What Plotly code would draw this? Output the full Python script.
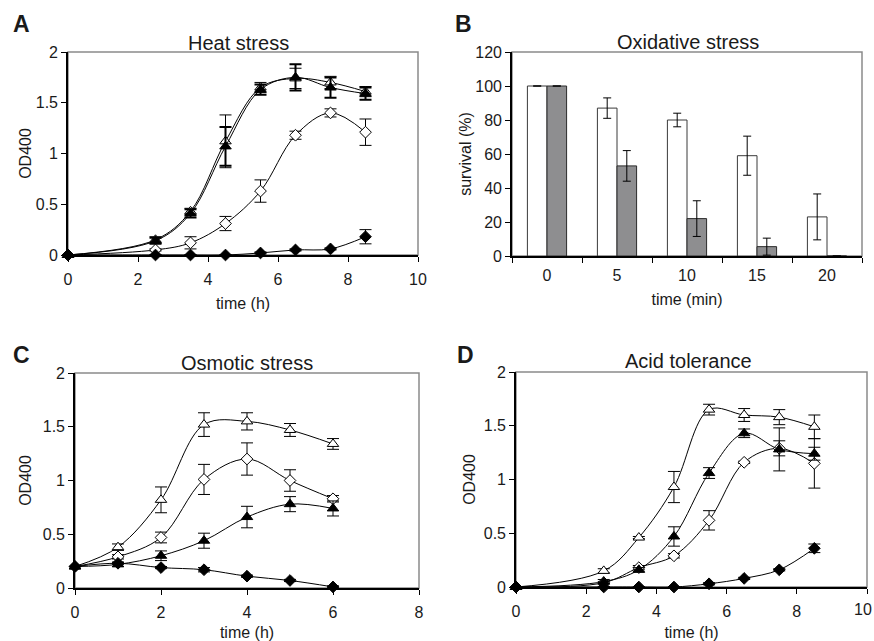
import plotly.graph_objects as go

# ---------------- data ----------------
# Panel A: Heat stress
a_time = [0, 2.5, 3.5, 4.5, 5.5, 6.5, 7.5, 8.5]
a_open_tri = [0, 0.15, 0.43, 1.12, 1.65, 1.74, 1.70, 1.61]
a_open_tri_err = [0, 0.03, 0.03, 0.26, 0.05, 0.10, 0.06, 0.05]
a_fill_tri = [0, 0.14, 0.41, 1.07, 1.63, 1.75, 1.65, 1.59]
a_fill_tri_err = [0, 0.03, 0.04, 0.19, 0.05, 0.13, 0.10, 0.06]
a_open_dia = [0, 0.05, 0.12, 0.31, 0.63, 1.18, 1.40, 1.21]
a_open_dia_err = [0, 0.01, 0.06, 0.07, 0.11, 0.04, 0.04, 0.13]
a_fill_dia = [0, 0, 0, 0, 0.02, 0.05, 0.06, 0.18]
a_fill_dia_err = [0, 0, 0, 0, 0.01, 0.01, 0.01, 0.07]

# Panel B: Oxidative stress
b_cats = ["0", "5", "10", "15", "20"]
b_white = [100, 87, 80, 59, 23]
b_white_err = [0, 6, 4, 11.5, 13.5]
b_gray = [100, 53, 22, 5.5, 0]
b_gray_err = [0, 9, 10.5, 5, 0]

# Panel C: Osmotic stress
c_time = [0, 1, 2, 3, 4, 5, 6]
c_open_tri = [0.2, 0.38, 0.82, 1.52, 1.55, 1.47, 1.34]
c_open_tri_err = [0, 0.03, 0.12, 0.11, 0.08, 0.06, 0.05]
c_open_dia = [0.2, 0.29, 0.47, 1.01, 1.20, 1.00, 0.83]
c_open_dia_err = [0, 0.02, 0.05, 0.14, 0.15, 0.10, 0.03]
c_fill_tri = [0.2, 0.22, 0.30, 0.44, 0.66, 0.78, 0.74]
c_fill_tri_err = [0, 0.02, 0.045, 0.07, 0.10, 0.07, 0.07]
c_fill_dia = [0.2, 0.23, 0.19, 0.17, 0.11, 0.07, 0.01]
c_fill_dia_err = [0, 0.01, 0.01, 0.02, 0.01, 0.01, 0.01]

# Panel D: Acid tolerance
d_time = [0, 2.5, 3.5, 4.5, 5.5, 6.5, 7.5, 8.5]
d_open_tri = [0, 0.15, 0.46, 0.93, 1.65, 1.60, 1.58, 1.49]
d_open_tri_err = [0, 0.02, 0.01, 0.145, 0.05, 0.06, 0.07, 0.11]
d_fill_tri = [0, 0.05, 0.16, 0.47, 1.06, 1.43, 1.28, 1.24]
d_fill_tri_err = [0, 0.02, 0.02, 0.09, 0.05, 0.04, 0.20, 0.06]
d_open_dia = [0, 0.04, 0.18, 0.29, 0.62, 1.16, 1.29, 1.15]
d_open_dia_err = [0, 0.01, 0.02, 0.02, 0.09, 0.01, 0.07, 0.23]
d_fill_dia = [0, 0, 0, 0, 0.03, 0.08, 0.16, 0.36]
d_fill_dia_err = [0, 0, 0, 0, 0.01, 0.01, 0.01, 0.04]

panel_titles = ["Heat stress", "Oxidative stress", "Osmotic stress", "Acid tolerance"]
panel_letters = ["A", "B", "C", "D"]

# ---------------- figure ----------------
W, H = 874, 641
FONT = "Liberation Sans, Arial, sans-serif"
fig = go.Figure()


def px_x(p):
    return p / W


def px_y(p):
    return 1 - p / H


def line_trace(x, y, err, symbol, filled, xa, ya, size=10, ethick=1):
    return go.Scatter(
        x=x, y=y, xaxis=xa, yaxis=ya, mode="lines+markers",
        line=dict(color="black", width=1, shape="spline", smoothing=1),
        marker=dict(symbol=symbol, size=size,
                    color="black" if filled else "white",
                    line=dict(color="black", width=1)),
        error_y=dict(type="data", array=err, visible=True, color="black",
                     thickness=ethick, width=6),
        cliponaxis=False, showlegend=False, hoverinfo="x+y",
    )


# Panel A
for y, e, s, f, th in [
    (a_open_tri, a_open_tri_err, "triangle-up", False, 1),
    (a_open_dia, a_open_dia_err, "diamond", False, 1),
    (a_fill_dia, a_fill_dia_err, "diamond", True, 1),
    (a_fill_tri, a_fill_tri_err, "triangle-up", True, 2),
]:
    fig.add_trace(line_trace(a_time, y, e, s, f, "x", "y",
                             size=10 if "tri" in s else 9, ethick=th))

# Panel B
fig.add_trace(go.Bar(
    x=b_cats, y=b_white, xaxis="x2", yaxis="y2", showlegend=False,
    marker=dict(color="white", line=dict(color="#3a3a3a", width=1)),
    error_y=dict(type="data", array=b_white_err, visible=True, color="black",
                 thickness=1, width=4)))
fig.add_trace(go.Bar(
    x=b_cats, y=b_gray, xaxis="x2", yaxis="y2", showlegend=False,
    marker=dict(color="#8e8e90", line=dict(color="#2a2a2a", width=1)),
    error_y=dict(type="data", array=b_gray_err, visible=True, color="black",
                 thickness=1, width=4)))

# Panel C
for y, e, s, f, th in [
    (c_open_tri, c_open_tri_err, "triangle-up", False, 1),
    (c_open_dia, c_open_dia_err, "diamond", False, 1),
    (c_fill_tri, c_fill_tri_err, "triangle-up", True, 1),
    (c_fill_dia, c_fill_dia_err, "diamond", True, 1),
]:
    fig.add_trace(line_trace(c_time, y, e, s, f, "x3", "y3",
                             size=10 if "tri" in s else 9, ethick=th))

# Panel D
for y, e, s, f, th in [
    (d_open_tri, d_open_tri_err, "triangle-up", False, 1),
    (d_open_dia, d_open_dia_err, "diamond", False, 1),
    (d_fill_tri, d_fill_tri_err, "triangle-up", True, 1),
    (d_fill_dia, d_fill_dia_err, "diamond", True, 1),
]:
    fig.add_trace(line_trace(d_time, y, e, s, f, "x4", "y4",
                             size=10 if "tri" in s else 9, ethick=th))

# domains in pixels (left, right, top, bottom)
doms = {
    "": (68, 418, 52, 255),
    "2": (512, 862, 52, 256),
    "3": (75, 419, 373, 588),
    "4": (516, 867, 372, 587),
}
ytitle_standoff = {"": 0, "2": 0, "3": 7, "4": 4}

tickfont = dict(family=FONT, size=16, color="#1a1a1a")
axcommon = dict(showline=True, linecolor="black", linewidth=1.6,
                ticks="outside", ticklen=5, tickcolor="black", tickwidth=1,
                showgrid=False, zeroline=False, tickfont=tickfont,
                automargin=False,
                title_font=dict(family=FONT, size=16, color="#1a1a1a"))

xcfg = {
    "": dict(range=[0, 10], dtick=2, title_text="time (h)"),
    "2": dict(type="category", tickson="boundaries", range=[-0.5, 4.5],
              title_text="time (min)"),
    "3": dict(range=[0, 8], dtick=2, title_text="time (h)"),
    "4": dict(range=[0, 10], dtick=2, title_text="time (h)"),
}
ycfg = {
    "": dict(range=[0, 2], dtick=0.5, title_text="OD400"),
    "2": dict(range=[0, 120], dtick=20, title_text="survival (%)"),
    "3": dict(range=[0, 2], dtick=0.5, title_text="OD400"),
    "4": dict(range=[0, 2], dtick=0.5, title_text="OD400"),
}

layout = {}
for k, (l, r, t, b) in doms.items():
    xa = "xaxis" + k
    ya = "yaxis" + k
    layout[xa] = dict(axcommon, domain=[px_x(l), px_x(r)], anchor="y" + k,
                      ticklabelstandoff=4, title_standoff=11, **xcfg[k])
    layout[ya] = dict(axcommon, domain=[px_y(b), px_y(t)], anchor="x" + k,
                      title_standoff=ytitle_standoff[k], **ycfg[k])
    # gray frame (top/right)
    fig.add_shape(type="rect", xref=("x%s domain" % k), yref=("y%s domain" % k),
                  x0=0, x1=1, y0=0, y1=1, layer="below",
                  line=dict(color="#8a8a8a", width=1.5))

fig.update_layout(**layout)

# last tick label of panel D (kept inside the right edge)
fig.add_annotation(text="10", x=1, xref="paper", y=px_y(587 + 22), yref="paper",
                   showarrow=False, xanchor="right", yanchor="middle",
                   font=dict(family=FONT, size=16, color="#1a1a1a"))

# titles and letters
title_pos = [(238, 43), (688, 42), (247, 363), (688, 361)]
letter_pos = [(21, 24), (464, 24), (21, 355), (465, 355)]
for txt, (x, y) in zip(panel_titles, title_pos):
    fig.add_annotation(text=txt, x=px_x(x), y=px_y(y), xref="paper", yref="paper",
                       showarrow=False, xanchor="center", yanchor="middle",
                       font=dict(family=FONT, size=20, color="#1a1a1a"))
for txt, (x, y) in zip(panel_letters, letter_pos):
    fig.add_annotation(text="<b>%s</b>" % txt, x=px_x(x), y=px_y(y), xref="paper",
                       yref="paper", showarrow=False, xanchor="center", yanchor="middle",
                       font=dict(family=FONT, size=23, color="#1a1a1a"))

fig.update_layout(
    width=W, height=H, margin=dict(l=0, r=0, t=0, b=0, pad=0, autoexpand=False),
    paper_bgcolor="white", plot_bgcolor="white",
    barmode="group", bargap=0.44, bargroupgap=0,
    showlegend=False,
)

fig.write_html(
    "out.html",
    config={"displayModeBar": False},
    post_script="document.body.style.margin='0';document.body.style.overflow='hidden';",
)
